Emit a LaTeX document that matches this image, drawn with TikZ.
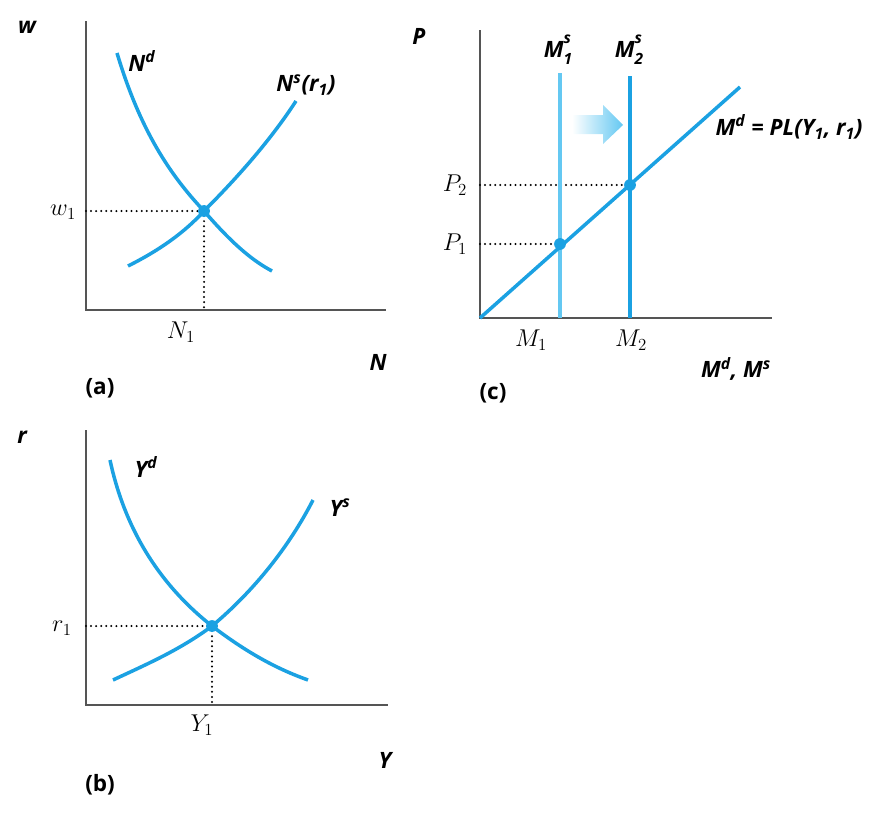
\documentclass[tikz,border=0pt]{standalone}
\usepackage{fontspec}
\setsansfont{Open Sans}
\usetikzlibrary{calc}

\definecolor{curveblue}{RGB}{27,161,226}
\definecolor{lightblue}{RGB}{100,200,242}
\definecolor{axisgray}{RGB}{85,85,85}

\newcommand{\supsub}[3]{#1\rlap{\raisebox{0.62em}{\fontsize{11}{12}\selectfont #2}}\raisebox{-0.3em}{\fontsize{11}{12}\selectfont #3}}

\tikzset{
  axis/.style={axisgray, line width=1pt},
  curve/.style={curveblue, line width=2.5pt},
  guide/.style={black, line width=1.6pt, dash pattern=on 0pt off 3.6pt, line cap=round},
  eqdot/.style={curveblue, radius=4.2pt},
  axlabel/.style={font=\sffamily\bfseries\itshape\fontsize{16}{19}\selectfont, inner sep=1pt},
  mathlabel/.style={font=\fontsize{18}{21}\selectfont, inner sep=1pt},
  panel/.style={font=\sffamily\bfseries\fontsize{16}{19}\selectfont}
}

\begin{document}
\begin{tikzpicture}[x=0.025cm, y=-0.025cm]

\useasboundingbox (0,0) rectangle (891,822);

% ---------- panel (a): labour market
\coordinate (aO) at (86,310);
\coordinate (aE) at (204,211);
\draw[axis] (86,21) -- (aO) -- (386,310);
\draw[guide] (aO |- aE) -- (aE);
\draw[guide] (aE) -- (aE |- aO);
% Nd
\draw[curve] (117,53) .. controls (140,130) and (170,175) .. (aE)
  .. controls (235,247) and (255,262) .. (272,271);
% Ns
\draw[curve] (128,266) .. controls (160,250) and (185,232) .. (aE)
  .. controls (240,175) and (272,138) .. (296,101);
\fill[eqdot] (aE) circle;
\node[axlabel] (w) at (27,27) {w};
\node[axlabel] (Nd) at (142,61) {N\textsuperscript{d}};
\node[axlabel] (Ns) at (306,85) {N\textsuperscript{s}(r\textsubscript{1})};
\node[mathlabel] (w1) at (63,212) {$w_1$};
\node[mathlabel] (N1) at (181,332) {$N_1$};
\node[axlabel] (N) at (378,362) {N};
\node[panel] (pa) at (100,388) {(a)};

% ---------- panel (b): goods market
\coordinate (bO) at (86,705);
\coordinate (bE) at (212,626);
\draw[axis] (86,430) -- (bO) -- (388,705);
\draw[guide] (bO |- bE) -- (bE);
\draw[guide] (bE) -- (bE |- bO);
% Yd
\draw[curve] (110,460) .. controls (125,530) and (160,585) .. (bE)
  .. controls (250,655) and (280,670) .. (308,680);
% Ys
\draw[curve] (113,680) .. controls (145,665) and (180,650) .. (bE)
  .. controls (255,590) and (290,545) .. (313,500);
\fill[eqdot] (bE) circle;
\node[axlabel] (r) at (22,437) {r};
\node[axlabel] (Yd) at (146,467) {Y\textsuperscript{d}};
\node[axlabel] (Ys) at (340,508) {Y\textsuperscript{s}};
\node[mathlabel] (r1) at (62,628) {$r_1$};
\node[mathlabel] (Y1) at (202,725) {$Y_1$};
\node[axlabel] (Y) at (385,760) {Y};
\node[panel] (pb) at (100,785) {(b)};

% ---------- panel (c): money market
\coordinate (cO) at (480,318);
\coordinate (cE1) at (560,244);
\coordinate (cE2) at (630,185);
\draw[axis] (480,30) -- (cO) -- (772,318);
\draw[guide] (cO |- cE1) -- (cE1);
\draw[guide] (cO |- cE2) -- (cE2);
\draw[lightblue, line width=2.5pt] (560,73) -- (cE1 |- cO);
\draw[curve] (630,76) -- (cE2 |- cO);
\draw[curve] (cO) -- (740,87);
\fill[eqdot] (cE1) circle;
\fill[eqdot] (cE2) circle;
% shift arrow
\shade[left color=white, right color=lightblue]
  (572,115) -- (603,115) -- (603,105) -- (623,125) -- (603,144)
  -- (603,134) -- (572,134) -- cycle;
\node[axlabel] (P) at (419,36) {P};
\node[axlabel] (M1s) at (558,50) {\supsub{M}{s}{1}};
\node[axlabel] (M2s) at (629,50) {\supsub{M}{s}{2}};
\node[axlabel, anchor=west] (Md) at (714,127) {M\textsuperscript{d} = PL(Y\textsubscript{1}, r\textsubscript{1})};
\node[mathlabel] (P2) at (455,185) {$P_2$};
\node[mathlabel] (P1) at (455,244) {$P_1$};
\node[mathlabel] (M1) at (531,340) {$M_1$};
\node[mathlabel] (M2) at (631,340) {$M_2$};
\node[axlabel] (MdMs) at (736,369) {M\textsuperscript{d}, M\textsuperscript{s}};
\node[panel] (pc) at (493,393) {(c)};

\end{tikzpicture}
\end{document}
